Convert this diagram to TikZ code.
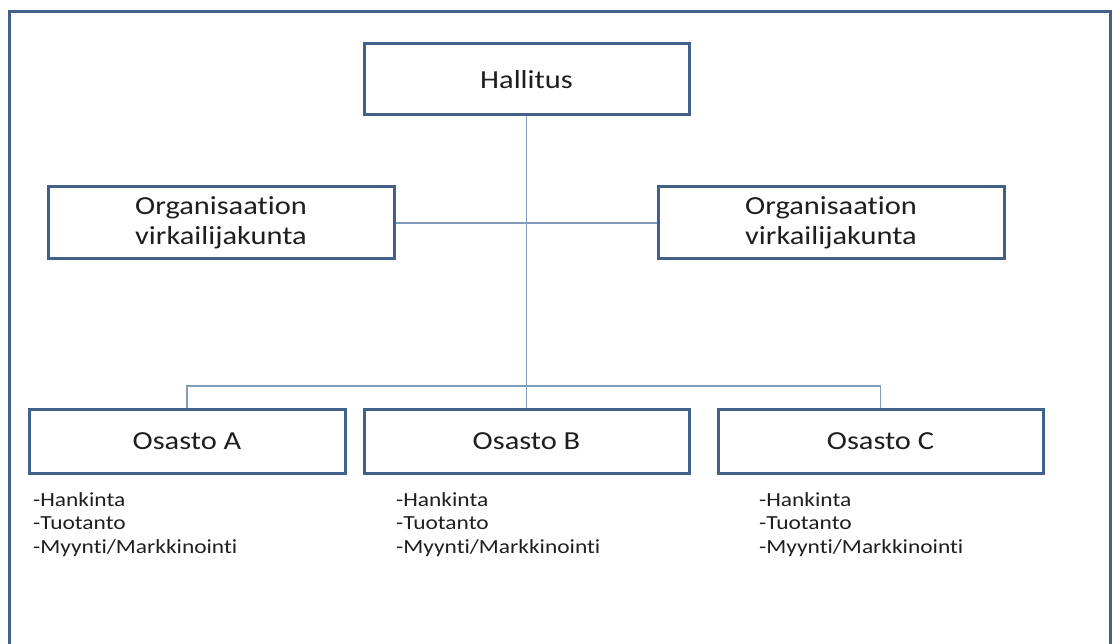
\documentclass[tikz,border=0pt]{standalone}
\usepackage{fontspec}
\setmainfont{Carlito}[FakeStretch=1.17, Ligatures=NoCommon]
\definecolor{boxline}{HTML}{41618A}
\definecolor{linkline}{HTML}{7F9CB8}
\definecolor{inktext}{HTML}{1E1E1E}
\begin{document}
\begin{tikzpicture}[x=1pt,y=-1pt,
  unit/.style={draw=boxline, line width=3pt, fill=white, inner sep=0pt,
    text=inktext, align=center, font=\fontsize{26}{30}\selectfont},
  dept/.style={unit, minimum width=325pt, minimum height=63pt},
  duties/.style={anchor=base west, inner sep=0pt, align=left, text=inktext,
    font=\fontsize{20}{23.5}\selectfont},
  link/.style={draw=linkline, line width=1.2pt}]
\useasboundingbox (0,0) rectangle (1112,644);
% outer frame, open at the bottom edge
\draw[boxline, line width=3pt] (9,650) -- (9,12) -- (1110,12) -- (1110,650);

% top level
\node[unit, minimum width=325pt, minimum height=71pt] (hall) at (526.5,79.5) {Hallitus};
\node[unit, minimum width=346pt, minimum height=72pt] (orgl) at (221,223) {Organisaation\\virkailijakunta};
\node[unit, minimum width=346pt, minimum height=72pt] (orgr) at (831,223) {Organisaation\\virkailijakunta};

% departments
\node[dept, minimum width=316pt] (depa) at (187,441.5) {Osasto A};
\node[dept] (depb) at (526.5,441.5) {Osasto B};
\node[dept] (depc) at (880.5,441.5) {Osasto C};

% department duties (anchored on the baseline of the last line)
\node[duties] (dutya) at (33,553) {-Hankinta\\-Tuotanto\\-Myynti/Markkinointi};
\node[duties] (dutyb) at (396,553) {-Hankinta\\-Tuotanto\\-Myynti/Markkinointi};
\node[duties] (dutyc) at (759,553) {-Hankinta\\-Tuotanto\\-Myynti/Markkinointi};

% connectors
\coordinate (busa) at (187,386);
\coordinate (busc) at (880.5,386);
\draw[link] (hall.south) -- (depb.north);
\draw[link] (orgl.east) -- (orgr.west);
\draw[link] (depa.north) -- (busa) -- (busc) -- (depc.north);
\end{tikzpicture}
\end{document}
